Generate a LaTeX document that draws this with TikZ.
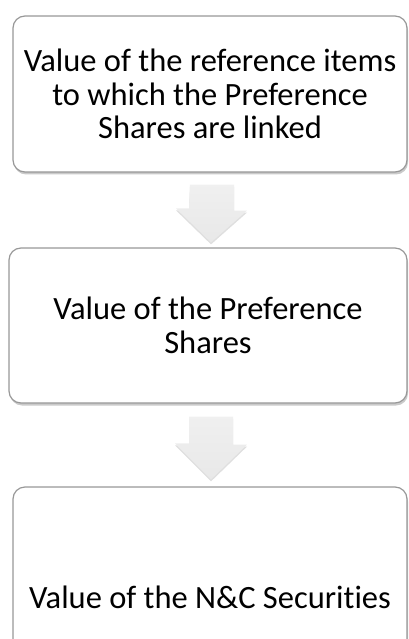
\documentclass[tikz,border=0pt]{standalone}
\usepackage{fontspec}
\setmainfont{Carlito}[Ligatures=NoCommon]
\usetikzlibrary{shadows,calc}
\begin{document}
\begin{tikzpicture}[x=1pt,y=-1pt,
  stepbox/.style={draw=gray!85!black!70, line width=1.2pt, rounded corners=12pt, fill=white,
    align=center, font=\fontsize{32.5}{33.5}\selectfont, inner sep=0pt,
    drop shadow={shadow xshift=1pt, shadow yshift=-2.5pt, opacity=0.35, fill=black!60}},
  blockarrow/.style={draw=none, top color=gray!12, bottom color=gray!18,
    drop shadow={shadow xshift=0pt, shadow yshift=-2pt, opacity=0.25}}]
\useasboundingbox (0,0) rectangle (408,639);
\node[stepbox, minimum width=394pt, minimum height=156pt] (b1) at (210,94)
  {Value of the reference items\\to which the Preference\\Shares are linked};
\node[stepbox, minimum width=398pt, minimum height=155pt] (b2) at (208,325.5)
  {Value of the Preference\\Shares};
\node[stepbox, minimum width=394pt, minimum height=220pt] (b3) at (210,597)
  {Value of the N\&C Securities};
% block arrows
\path[blockarrow] ($(b1.south)+(-20,12)$) -- ++(44,0) -- ++(0,26) -- ++(13,0)
  -- ($(b2.north)+(3,-5)$) -- ++(-35,-34) -- ++(13,0) -- cycle;
\path[blockarrow] ($(b2.south)+(-19,13)$) -- ++(44,0) -- ++(0,28) -- ++(14,0)
  -- ($(b3.north)+(1,-7)$) -- ++(-36,-36) -- ++(14,0) -- cycle;
\end{tikzpicture}
\end{document}
